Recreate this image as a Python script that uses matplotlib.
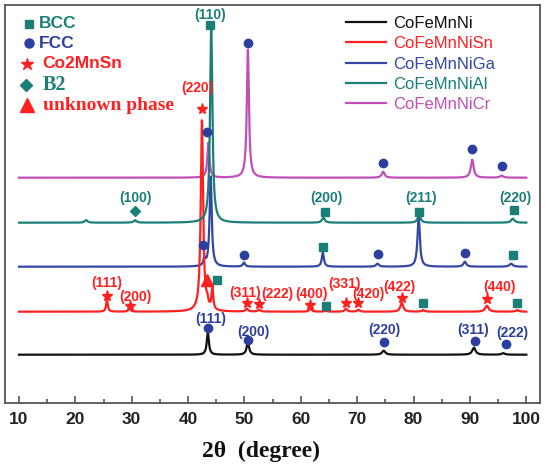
import numpy as np
import matplotlib
matplotlib.use('Agg')
import matplotlib.pyplot as plt
from matplotlib.ticker import MultipleLocator

# ---------------- data ----------------
samples = ['CoFeMnNi', 'CoFeMnNiSn', 'CoFeMnNiGa', 'CoFeMnNiAl', 'CoFeMnNiCr']
offsets = [48, 91, 136, 180, 225]

# peak positions (2theta, deg), heights (a.u.), widths (FWHM deg)
ni_pos = [43.5, 50.6, 74.7, 90.7, 95.9]
ni_h   = [22, 12, 4, 7, 1.5]
ni_w   = [0.45, 0.55, 0.7, 0.7, 0.7]

sn_pos = [25.6, 29.6, 42.45, 43.4, 44.3, 50.4, 52.6, 61.7, 64.4, 68.0, 70.2, 77.9, 81.7, 93.0, 98.4]
sn_h   = [12, 4, 191, 6, 22, 3, 2, 3, 1, 3, 2, 9, 1.5, 6, 1.5]
sn_w   = [0.35, 0.4, 0.5, 0.4, 0.35, 0.5, 0.5, 0.5, 0.5, 0.5, 0.5, 0.6, 0.6, 0.7, 0.7]

ga_pos = [42.9, 44.0, 49.9, 63.9, 73.6, 80.9, 89.1, 97.3]
ga_h   = [7, 90, 4, 14, 3, 50, 5, 3]
ga_w   = [0.4, 0.45, 0.5, 0.45, 0.6, 0.5, 0.6, 0.7]

al_pos = [21.9, 30.6, 44.1, 64.0, 81.0, 97.6]
al_h   = [2.5, 2.5, 193, 5, 8, 4]
al_w   = [0.6, 0.6, 0.5, 0.6, 0.6, 0.7]

cr_pos = [43.6, 50.6, 74.6, 90.4, 95.6]
cr_h   = [35, 128, 6, 18, 2]
cr_w   = [0.45, 0.45, 0.6, 0.6, 0.7]

peaks = [(ni_pos, ni_h, ni_w), (sn_pos, sn_h, sn_w), (ga_pos, ga_h, ga_w),
         (al_pos, al_h, al_w), (cr_pos, cr_h, cr_w)]

# phase markers: (2theta, intensity level)
bcc_x = [43.9, 64.3, 81.0, 97.8, 63.9, 97.7, 45.1, 64.4, 81.7, 98.4]
bcc_y = [378, 191, 191, 193, 156, 148, 123, 97, 100, 100]
fcc_x = [43.4, 50.6, 74.6, 90.4, 95.6, 42.6, 49.9, 73.6, 89.1, 43.6, 50.7, 74.8, 90.9, 96.4]
fcc_y = [271, 360, 240, 254, 237, 158, 148, 149, 150, 75, 63, 61, 62, 59]
star_x = [42.5, 25.6, 29.7, 50.4, 52.6, 61.7, 68.0, 70.2, 77.9, 93.1]
star_y = [294, 107, 97, 100, 99, 98, 100, 100, 105, 104]
b2_x = [30.6]
b2_y = [192]
unk_x = [43.4]
unk_y = [123]

# hkl labels: (text, 2theta, level)
teal_lbl = [('(110)', 43.9, 388), ('(100)', 30.6, 205), ('(200)', 64.5, 205),
            ('(211)', 81.4, 205), ('(220)', 98.0, 205)]
red_lbl = [('(220)', 41.7, 315), ('(111)', 25.6, 120), ('(200)', 30.6, 106),
           ('(311)', 50.2, 110), ('(222)', 55.9, 109), ('(400)', 61.9, 109),
           ('(331)', 67.8, 119), ('(420)', 72.0, 109), ('(422)', 77.5, 116),
           ('(440)', 95.3, 116)]
blue_lbl = [('(111)', 44.0, 84), ('(200)', 51.6, 71), ('(220)', 74.9, 73),
            ('(311)', 90.6, 73), ('(222)', 97.5, 70)]

# ---------------- style ----------------
C_BLACK = '#111111'
C_RED = '#ff2020'
C_BLUE = '#3447a3'
C_TEAL = '#1b7f78'
C_MAG = '#c050b8'
C_DOT = '#2c3f9f'
line_colors = [C_BLACK, C_RED, C_BLUE, C_TEAL, C_MAG]
zorders = [2, 3, 2, 4, 1]

W, H = 545, 468
fig = plt.figure(figsize=(W / 100, H / 100), dpi=100)
ax = fig.add_axes([4.7 / W, 1 - 402.7 / H, (540 - 4.7) / W, (402.7 - 5) / H])

x = np.linspace(10, 100, 6001)
for name, (pos, hh, ww), off, col, z in zip(samples, peaks, offsets, line_colors, zorders):
    y = np.full_like(x, float(off))
    for p, h, w in zip(pos, hh, ww):
        y += h / (1 + ((x - p) / (w / 2)) ** 2)
    ax.plot(x, y, color=col, lw=1.6, label=name, zorder=z)

ms = dict(linestyle='none', zorder=6, clip_on=False)
ax.plot(bcc_x, bcc_y, marker='s', ms=5.5, color=C_TEAL, mec=C_TEAL, **ms)
ax.plot(fcc_x, fcc_y, marker='o', ms=6, color=C_DOT, mec=C_DOT, **ms)
ax.plot(star_x, star_y, marker='*', ms=8, color=C_RED, mec=C_RED, **ms)
ax.plot(b2_x, b2_y, marker='D', ms=5.5, color=C_TEAL, mec=C_TEAL, **ms)
ax.plot(unk_x, unk_y, marker='^', ms=8, color=C_RED, mec=C_RED, **ms)

lab_kw = dict(ha='center', va='center', fontsize=10, fontweight='bold',
              family='Liberation Sans', zorder=7)
for t, xx, yy in teal_lbl:
    ax.text(xx, yy, t, color=C_TEAL, **lab_kw)
for t, xx, yy in red_lbl:
    ax.text(xx, yy, t, color=C_RED, **lab_kw)
for t, xx, yy in blue_lbl:
    ax.text(xx, yy, t, color=C_DOT, **lab_kw)

# axes
ax.set_xlim(10 + (4.7 - 19) / 5.637, 10 + (540 - 19) / 5.637)
ax.set_ylim(0, 397.7)
ax.set_yticks([])
ax.xaxis.set_major_locator(MultipleLocator(10))
ax.xaxis.set_minor_locator(MultipleLocator(5))
ax.tick_params(axis='x', which='major', direction='in', length=5, width=1.2,
               color='#555555', pad=7, labelsize=12.5)
ax.tick_params(axis='x', which='minor', direction='in', length=3, width=1.2, color='#555555')
for lbl in ax.get_xticklabels():
    lbl.set_fontweight('bold')
    lbl.set_family('Liberation Sans')
    lbl.set_color('#222222')
for s in ax.spines.values():
    s.set_color('#555555')
    s.set_linewidth(1.3)

fig.text(261 / W, 1 - 451 / H, '2\u03b8  (degree)', ha='center', va='center',
         fontsize=17, fontweight='bold', family='Liberation Serif', color='#111111')

# line legend
leg = ax.legend(loc='upper left', bbox_to_anchor=(346 / W, 1 - 16 / H),
                bbox_transform=fig.transFigure, frameon=False,
                handlelength=2.4, handletextpad=0.4, labelspacing=0.32,
                borderpad=0, borderaxespad=0, prop={'family': 'Liberation Sans', 'size': 12})
for txt, col in zip(leg.get_texts(), line_colors):
    txt.set_color(col)

# phase key (upper left)
key = [('s', 6, C_TEAL, 'BCC', C_TEAL, 'Liberation Sans', 12.5, 29, 39, 24),
       ('o', 6.5, C_DOT, 'FCC', C_DOT, 'Liberation Sans', 12.5, 28.7, 39, 43),
       ('*', 9, C_RED, 'Co2MnSn', C_RED, 'Liberation Sans', 12.5, 26.7, 42.7, 63.5),
       ('D', 6.5, C_TEAL, 'B2', C_TEAL, 'Liberation Serif', 14.5, 26, 42.7, 85),
       ('^', 10, C_RED, 'unknown phase', C_RED, 'Liberation Serif', 14, 26.7, 42.7, 105)]
for mk, msz, mc, txt, tc, fam, fs, mx, tx, yy in key:
    fig.lines.append(plt.Line2D([mx / W], [1 - yy / H], marker=mk, ms=msz, color=mc,
                                mec=mc, linestyle='none', transform=fig.transFigure))
    fig.text(tx / W, 1 - yy / H, txt, ha='left', va='center', fontsize=fs,
             fontweight='bold', family=fam, color=tc)

fig.savefig('out.png', dpi=100)
